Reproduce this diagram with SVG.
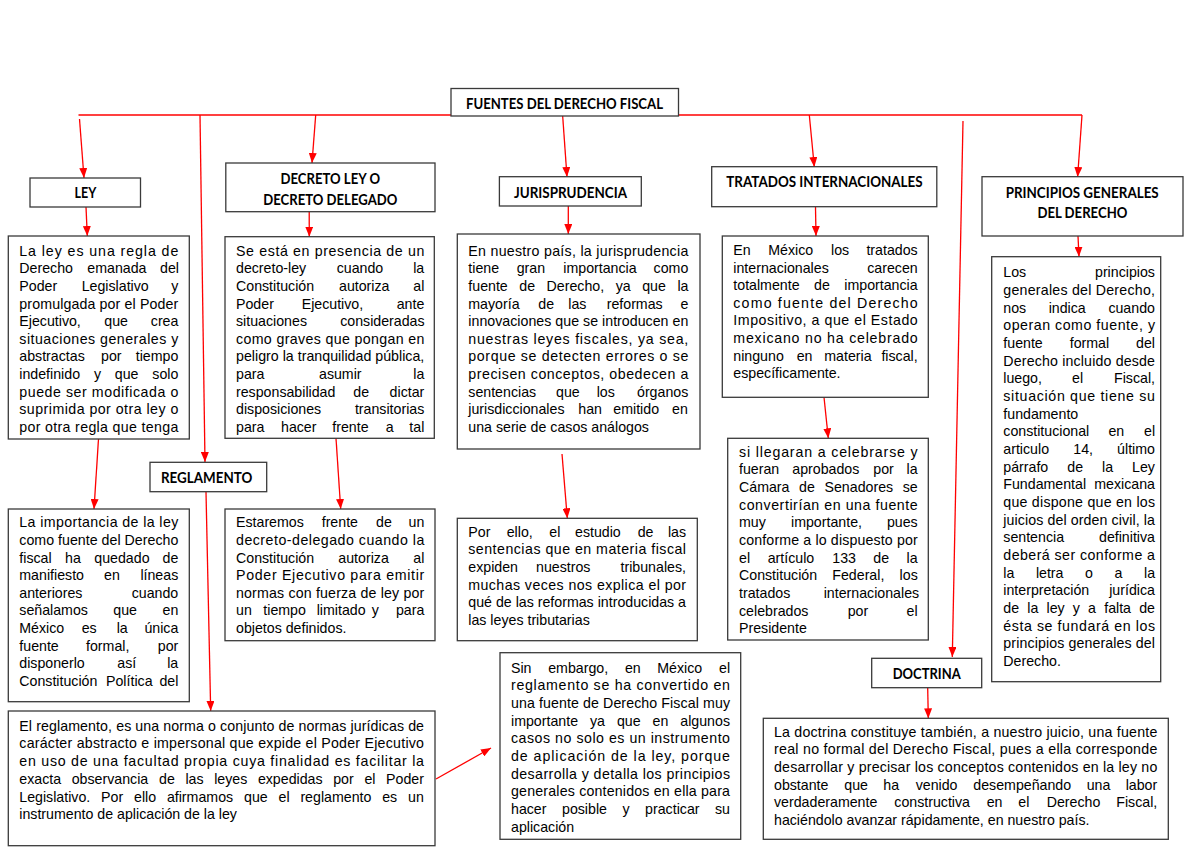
<svg xmlns="http://www.w3.org/2000/svg" width="1200" height="849" viewBox="0 0 1200 849">
<style>
.bx{fill:#fff;stroke:#3a3a3a;stroke-width:1.3}
.h{font-family:Lato,"Liberation Sans",Arial,sans-serif;font-weight:700;font-size:14.5px;fill:#000}
.b{font-family:"Liberation Sans",Arial,sans-serif;font-size:14.2px;fill:#000}
.c{fill:none;stroke:#ff0000;stroke-width:1.3}
</style>
<defs>
<marker id="ah" viewBox="0 0 10 8" refX="10" refY="4" markerWidth="10" markerHeight="8" markerUnits="userSpaceOnUse" orient="auto">
<path d="M0,0 L10,4 L0,8 z" fill="#ff0000"/>
</marker>
<clipPath id="clipLey"><rect x="8.3" y="236" width="181" height="203"/></clipPath>
<clipPath id="clipDec"><rect x="225" y="236.7" width="209.3" height="201.6"/></clipPath>
</defs>

<g id="connectors">
<path class="c" d="M78.5,115 H1082"/>
<path class="c" d="M79.5,119 L84,178" marker-end="url(#ah)"/>
<path class="c" d="M200,115 L205,462" marker-end="url(#ah)"/>
<path class="c" d="M315.7,115 L312,163" marker-end="url(#ah)"/>
<path class="c" d="M562.6,115 L567,177" marker-end="url(#ah)"/>
<path class="c" d="M809.3,115 L814.3,167" marker-end="url(#ah)"/>
<path class="c" d="M963,121 L952.3,657" marker-end="url(#ah)"/>
<path class="c" d="M1082,115 L1077.6,177" marker-end="url(#ah)"/>
<path class="c" d="M86,207 L87.3,236" marker-end="url(#ah)"/>
<path class="c" d="M309.2,212 L309.3,236.7" marker-end="url(#ah)"/>
<path class="c" d="M568.3,206 L568.3,234" marker-end="url(#ah)"/>
<path class="c" d="M815.5,207 L816,236" marker-end="url(#ah)"/>
<path class="c" d="M1078,236 L1079,256.7" marker-end="url(#ah)"/>
<path class="c" d="M98.5,439 L94,509" marker-end="url(#ah)"/>
<path class="c" d="M206,492 L210.7,711" marker-end="url(#ah)"/>
<path class="c" d="M336,438.3 L340.7,509" marker-end="url(#ah)"/>
<path class="c" d="M562,454 L567.3,518.3" marker-end="url(#ah)"/>
<path class="c" d="M824,397.3 L828.3,438.3" marker-end="url(#ah)"/>
<path class="c" d="M927.7,688 L928.3,718.3" marker-end="url(#ah)"/>
<path class="c" d="M436,779 L491,748" marker-end="url(#ah)"/>
</g>

<g id="title">
<rect class="bx" x="451" y="88.5" width="227.5" height="27.5"/>
<text class="h" x="466" y="109" textLength="197" lengthAdjust="spacingAndGlyphs">FUENTES DEL DERECHO FISCAL</text>
</g>

<g id="ley">
<rect class="bx" x="30" y="178" width="110.5" height="29"/>
<text class="h" x="74.6" y="198" textLength="21.8" lengthAdjust="spacingAndGlyphs">LEY</text>
</g>

<g id="ley-def">
<rect class="bx" x="8.3" y="236" width="181" height="203"/>
<g clip-path="url(#clipLey)">
<text class="b" x="19.3" y="255.7" textLength="159" lengthAdjust="spacing">La ley es una regla de</text>
<text class="b" y="273.3"><tspan x="19.3">Derecho</tspan><tspan x="87.3">emanada</tspan><tspan x="160">del</tspan></text>
<text class="b" y="290.9"><tspan x="19.3">Poder</tspan><tspan x="81.7">Legislativo</tspan><tspan x="171.2">y</tspan></text>
<text class="b" x="19.3" y="308.5" textLength="159" lengthAdjust="spacing">promulgada por el Poder</text>
<text class="b" y="326.1"><tspan x="19.3">Ejecutivo,</tspan><tspan x="104.3">que</tspan><tspan x="150.8">crea</tspan></text>
<text class="b" x="19.3" y="343.7" textLength="159" lengthAdjust="spacing">situaciones generales y</text>
<text class="b" y="361.3"><tspan x="19.3">abstractas</tspan><tspan x="101">por</tspan><tspan x="135.7">tiempo</tspan></text>
<text class="b" y="378.9"><tspan x="19.3">indefinido</tspan><tspan x="93.9">y</tspan><tspan x="114.8">que</tspan><tspan x="152.3">solo</tspan></text>
<text class="b" x="19.3" y="396.5" textLength="159" lengthAdjust="spacing">puede ser modificada o</text>
<text class="b" x="19.3" y="414.1" textLength="159" lengthAdjust="spacing">suprimida por otra ley o</text>
<text class="b" x="19.3" y="431.7" textLength="159" lengthAdjust="spacing">por otra regla que tenga</text>
</g>
</g>

<g id="ley-importancia">
<rect class="bx" x="8.3" y="509" width="181" height="192.7"/>
<text class="b" x="19.3" y="527.3" textLength="159" lengthAdjust="spacing">La importancia de la ley</text>
<text class="b" x="19.3" y="544.9" textLength="159" lengthAdjust="spacing">como fuente del Derecho</text>
<text class="b" y="562.5"><tspan x="19.3">fiscal</tspan><tspan x="65">ha</tspan><tspan x="94.3">quedado</tspan><tspan x="162.5">de</tspan></text>
<text class="b" y="580.1"><tspan x="19.3">manifiesto</tspan><tspan x="104">en</tspan><tspan x="140.4">líneas</tspan></text>
<text class="b" y="597.7"><tspan x="19.3">anteriores</tspan><tspan x="131.7">cuando</tspan></text>
<text class="b" y="615.3"><tspan x="19.3">señalamos</tspan><tspan x="113.3">que</tspan><tspan x="162.5">en</tspan></text>
<text class="b" y="632.9"><tspan x="19.3">México</tspan><tspan x="81.7">es</tspan><tspan x="116.7">la</tspan><tspan x="144.4">única</tspan></text>
<text class="b" y="650.5"><tspan x="19.3">fuente</tspan><tspan x="86">formal,</tspan><tspan x="157.8">por</tspan></text>
<text class="b" y="668.1"><tspan x="19.3">disponerlo</tspan><tspan x="117.3">así</tspan><tspan x="167.2">la</tspan></text>
<text class="b" y="685.7"><tspan x="19.3">Constitución</tspan><tspan x="106">Política</tspan><tspan x="159.4">del</tspan></text>
</g>

<g id="decreto">
<rect class="bx" x="225.8" y="163" width="209.2" height="48.7"/>
<text class="h" x="280.5" y="184" textLength="99.5" lengthAdjust="spacingAndGlyphs">DECRETO LEY O</text>
<text class="h" x="263.3" y="204.5" textLength="134" lengthAdjust="spacingAndGlyphs">DECRETO DELEGADO</text>
</g>

<g id="decreto-ley">
<rect class="bx" x="225" y="236.7" width="209.3" height="201.6"/>
<g clip-path="url(#clipDec)">
<text class="b" x="236" y="255.7" textLength="188.3" lengthAdjust="spacing">Se está en presencia de un</text>
<text class="b" y="273.3"><tspan x="236">decreto-ley</tspan><tspan x="336.7">cuando</tspan><tspan x="413.2">la</tspan></text>
<text class="b" y="290.9"><tspan x="236">Constitución</tspan><tspan x="339">autoriza</tspan><tspan x="413.3">al</tspan></text>
<text class="b" y="308.5"><tspan x="236">Poder</tspan><tspan x="301.7">Ejecutivo,</tspan><tspan x="396.7">ante</tspan></text>
<text class="b" y="326.1"><tspan x="236">situaciones</tspan><tspan x="340.2">consideradas</tspan></text>
<text class="b" x="236" y="343.7" textLength="188.3" lengthAdjust="spacing">como graves que pongan en</text>
<text class="b" x="236" y="361.3" textLength="188.3" lengthAdjust="spacing">peligro la tranquilidad pública,</text>
<text class="b" y="378.9"><tspan x="236">para</tspan><tspan x="319">asumir</tspan><tspan x="413.3">la</tspan></text>
<text class="b" y="396.5"><tspan x="236">responsabilidad</tspan><tspan x="353.3">de</tspan><tspan x="389.6">dictar</tspan></text>
<text class="b" y="414.1"><tspan x="236">disposiciones</tspan><tspan x="354.9">transitorias</tspan></text>
<text class="b" y="431.7"><tspan x="236">para</tspan><tspan x="281">hacer</tspan><tspan x="332.3">frente</tspan><tspan x="385.7">a</tspan><tspan x="409.3">tal</tspan></text>
</g>
</g>

<g id="decreto-delegado">
<rect class="bx" x="225" y="509" width="210" height="131.7"/>
<text class="b" y="527.3"><tspan x="236">Estaremos</tspan><tspan x="321.7">frente</tspan><tspan x="376">de</tspan><tspan x="408.5">un</tspan></text>
<text class="b" x="236" y="544.9" textLength="188.3" lengthAdjust="spacing">decreto-delegado cuando la</text>
<text class="b" y="562.5"><tspan x="236">Constitución</tspan><tspan x="338.3">autoriza</tspan><tspan x="413.3">al</tspan></text>
<text class="b" x="236" y="580.1" textLength="188.3" lengthAdjust="spacing">Poder Ejecutivo para emitir</text>
<text class="b" x="236" y="597.7" textLength="188.3" lengthAdjust="spacing">normas con fuerza de ley por</text>
<text class="b" y="615.3"><tspan x="236">un</tspan><tspan x="263.3">tiempo</tspan><tspan x="316.7">limitado</tspan><tspan x="371.7">y</tspan><tspan x="395.9">para</tspan></text>
<text class="b" x="236" y="632.9">objetos definidos.</text>
</g>

<g id="reglamento">
<rect class="bx" x="150" y="462.3" width="116.7" height="29.4"/>
<text class="h" x="161" y="483.3" textLength="91.3" lengthAdjust="spacingAndGlyphs">REGLAMENTO</text>
</g>

<g id="reglamento-def">
<rect class="bx" x="8.3" y="711" width="426.7" height="134.7"/>
<text class="b" x="19.3" y="730.7" textLength="404.7" lengthAdjust="spacing">El reglamento, es una norma o conjunto de normas jurídicas de</text>
<text class="b" x="19.3" y="748.4" textLength="404.7" lengthAdjust="spacing">carácter abstracto e impersonal que expide el Poder Ejecutivo</text>
<text class="b" x="19.3" y="766.1" textLength="404.7" lengthAdjust="spacing">en uso de una facultad propia cuya finalidad es facilitar la</text>
<text class="b" y="783.8"><tspan x="19.3">exacta</tspan><tspan x="71.7">observancia</tspan><tspan x="159">de</tspan><tspan x="185.4">las</tspan><tspan x="214.2">leyes</tspan><tspan x="257.9">expedidas</tspan><tspan x="333.2">por</tspan><tspan x="364.4">el</tspan><tspan x="386.1">Poder</tspan></text>
<text class="b" y="801.5"><tspan x="19.3">Legislativo.</tspan><tspan x="101.1">Por</tspan><tspan x="134">ello</tspan><tspan x="166.9">afirmamos</tspan><tspan x="244">que</tspan><tspan x="278.5">el</tspan><tspan x="300.4">reglamento</tspan><tspan x="382.2">es</tspan><tspan x="408">un</tspan></text>
<text class="b" x="19.3" y="819.2">instrumento de aplicación de la ley</text>
</g>

<g id="jurisprudencia">
<rect class="bx" x="499.4" y="176.7" width="141.9" height="29.3"/>
<text class="h" x="514" y="198" textLength="113" lengthAdjust="spacingAndGlyphs">JURISPRUDENCIA</text>
</g>

<g id="jurisprudencia-def">
<rect class="bx" x="457.3" y="234" width="242.7" height="215"/>
<text class="b" x="468.3" y="255.7" textLength="220" lengthAdjust="spacing">En nuestro país, la jurisprudencia</text>
<text class="b" y="273.3"><tspan x="468.3">tiene</tspan><tspan x="516.7">gran</tspan><tspan x="563.3">importancia</tspan><tspan x="653.6">como</tspan></text>
<text class="b" y="290.9"><tspan x="468.3">fuente</tspan><tspan x="519.3">de</tspan><tspan x="546.6">Derecho,</tspan><tspan x="615.7">ya</tspan><tspan x="642.2">que</tspan><tspan x="677.4">la</tspan></text>
<text class="b" y="308.5"><tspan x="468.3">mayoría</tspan><tspan x="538.3">de</tspan><tspan x="568.3">las</tspan><tspan x="606.7">reformas</tspan><tspan x="680.4">e</tspan></text>
<text class="b" x="468.3" y="326.1" textLength="220" lengthAdjust="spacing">innovaciones que se introducen en</text>
<text class="b" x="468.3" y="343.7" textLength="220" lengthAdjust="spacing">nuestras leyes fiscales, ya sea,</text>
<text class="b" x="468.3" y="361.3" textLength="220" lengthAdjust="spacing">porque se detecten errores o se</text>
<text class="b" x="468.3" y="378.9" textLength="220" lengthAdjust="spacing">precisen conceptos, obedecen a</text>
<text class="b" y="396.5"><tspan x="468.3">sentencias</tspan><tspan x="556">que</tspan><tspan x="596.7">los</tspan><tspan x="637">órganos</tspan></text>
<text class="b" y="414.1"><tspan x="468.3">jurisdiccionales</tspan><tspan x="578.3">han</tspan><tspan x="613.3">emitido</tspan><tspan x="672">en</tspan></text>
<text class="b" x="468.3" y="431.7">una serie de casos análogos</text>
</g>

<g id="jurisprudencia-estudio">
<rect class="bx" x="457.3" y="518.3" width="240" height="122.4"/>
<text class="b" y="536.7"><tspan x="468.3">Por</tspan><tspan x="506.7">ello,</tspan><tspan x="549.3">el</tspan><tspan x="575">estudio</tspan><tspan x="637.7">de</tspan><tspan x="667.9">las</tspan></text>
<text class="b" x="468.3" y="554.3" textLength="217.7" lengthAdjust="spacing">sentencias que en materia fiscal</text>
<text class="b" y="571.9"><tspan x="468.3">expiden</tspan><tspan x="536">nuestros</tspan><tspan x="620.5">tribunales,</tspan></text>
<text class="b" x="468.3" y="589.5" textLength="217.7" lengthAdjust="spacing">muchas veces nos explica el por</text>
<text class="b" x="468.3" y="607.1" textLength="217.7" lengthAdjust="spacing">qué de las reformas introducidas a</text>
<text class="b" x="468.3" y="624.7">las leyes tributarias</text>
</g>

<g id="reglamento-mexico">
<rect class="bx" x="500" y="652.7" width="240.7" height="186.6"/>
<text class="b" y="672.7"><tspan x="511">Sin</tspan><tspan x="548.2">embargo,</tspan><tspan x="624.9">en</tspan><tspan x="657.3">México</tspan><tspan x="719">el</tspan></text>
<text class="b" x="511" y="690.4" textLength="219" lengthAdjust="spacing">reglamento se ha convertido en</text>
<text class="b" x="511" y="708" textLength="219" lengthAdjust="spacing">una fuente de Derecho Fiscal muy</text>
<text class="b" y="725.7"><tspan x="511">importante</tspan><tspan x="590">ya</tspan><tspan x="616.9">que</tspan><tspan x="652.5">en</tspan><tspan x="680.3">algunos</tspan></text>
<text class="b" x="511" y="743.4" textLength="219" lengthAdjust="spacing">casos no solo es un instrumento</text>
<text class="b" x="511" y="761" textLength="219" lengthAdjust="spacing">de aplicación de la ley, porque</text>
<text class="b" x="511" y="778.7" textLength="219" lengthAdjust="spacing">desarrolla y detalla los principios</text>
<text class="b" x="511" y="796.4" textLength="219" lengthAdjust="spacing">generales contenidos en ella para</text>
<text class="b" y="814"><tspan x="511">hacer</tspan><tspan x="562">posible</tspan><tspan x="622.5">y</tspan><tspan x="645.1">practicar</tspan><tspan x="715">su</tspan></text>
<text class="b" x="511" y="831.7">aplicación</text>
</g>

<g id="tratados">
<rect class="bx" x="711.7" y="166.7" width="225.1" height="40"/>
<text class="h" x="726.3" y="187" textLength="196.3" lengthAdjust="spacingAndGlyphs">TRATADOS INTERNACIONALES</text>
</g>

<g id="tratados-def">
<rect class="bx" x="722.3" y="236" width="206" height="161.3"/>
<text class="b" y="255"><tspan x="733.3">En</tspan><tspan x="768.3">México</tspan><tspan x="831">los</tspan><tspan x="866.4">tratados</tspan></text>
<text class="b" y="272.6"><tspan x="733.3">internacionales</tspan><tspan x="867.2">carecen</tspan></text>
<text class="b" y="290.2"><tspan x="733.3">totalmente</tspan><tspan x="814">de</tspan><tspan x="844.3">importancia</tspan></text>
<text class="b" x="733.3" y="307.8" textLength="184.4" lengthAdjust="spacing">como fuente del Derecho</text>
<text class="b" x="733.3" y="325.4" textLength="184.4" lengthAdjust="spacing">Impositivo, a que el Estado</text>
<text class="b" x="733.3" y="343" textLength="184.4" lengthAdjust="spacing">mexicano no ha celebrado</text>
<text class="b" y="360.6"><tspan x="733.3">ninguno</tspan><tspan x="796.7">en</tspan><tspan x="824.3">materia</tspan><tspan x="881.4">fiscal,</tspan></text>
<text class="b" x="733.3" y="378.2">específicamente.</text>
</g>

<g id="tratados-senado">
<rect class="bx" x="727.7" y="438.3" width="200.6" height="201.7"/>
<text class="b" x="739" y="456.7" textLength="178.7" lengthAdjust="spacing">si llegaran a celebrarse y</text>
<text class="b" y="474.4"><tspan x="739">fueran</tspan><tspan x="792.3">aprobados</tspan><tspan x="873.3">por</tspan><tspan x="906.6">la</tspan></text>
<text class="b" y="492"><tspan x="739">Cámara</tspan><tspan x="799.1">de</tspan><tspan x="824.5">Senadores</tspan><tspan x="902.7">se</tspan></text>
<text class="b" x="739" y="509.7" textLength="178.7" lengthAdjust="spacing">convertirían en una fuente</text>
<text class="b" y="527.4"><tspan x="739">muy</tspan><tspan x="791">importante,</tspan><tspan x="886.9">pues</tspan></text>
<text class="b" x="739" y="545" textLength="178.7" lengthAdjust="spacing">conforme a lo dispuesto por</text>
<text class="b" y="562.7"><tspan x="739">el</tspan><tspan x="767.7">artículo</tspan><tspan x="832.3">133</tspan><tspan x="873.3">de</tspan><tspan x="906.6">la</tspan></text>
<text class="b" y="580.4"><tspan x="739">Constitución</tspan><tspan x="832.3">Federal,</tspan><tspan x="899.6">los</tspan></text>
<text class="b" y="598"><tspan x="739">tratados</tspan><tspan x="823.7">internacionales</tspan></text>
<text class="b" y="615.7"><tspan x="739">celebrados</tspan><tspan x="847.7">por</tspan><tspan x="906.6">el</tspan></text>
<text class="b" x="739" y="633.4">Presidente</text>
</g>

<g id="principios">
<rect class="bx" x="982" y="176.7" width="201" height="59.3"/>
<text class="h" x="1005.7" y="198" textLength="153" lengthAdjust="spacingAndGlyphs">PRINCIPIOS GENERALES</text>
<text class="h" x="1037.4" y="217.5" textLength="90" lengthAdjust="spacingAndGlyphs">DEL DERECHO</text>
</g>

<g id="principios-def">
<rect class="bx" x="991.7" y="256.7" width="169" height="425"/>
<text class="b" y="277.3"><tspan x="1003.3">Los</tspan><tspan x="1095">principios</tspan></text>
<text class="b" x="1003.3" y="295" textLength="151.7" lengthAdjust="spacing">generales del Derecho,</text>
<text class="b" y="312.6"><tspan x="1003.3">nos</tspan><tspan x="1048.7">indica</tspan><tspan x="1108.4">cuando</tspan></text>
<text class="b" x="1003.3" y="330.3" textLength="151.7" lengthAdjust="spacing">operan como fuente, y</text>
<text class="b" y="348"><tspan x="1003.3">fuente</tspan><tspan x="1069.7">formal</tspan><tspan x="1136.1">del</tspan></text>
<text class="b" x="1003.3" y="365.7" textLength="151.7" lengthAdjust="spacing">Derecho incluido desde</text>
<text class="b" y="383.3"><tspan x="1003.3">luego,</tspan><tspan x="1072">el</tspan><tspan x="1114">Fiscal,</tspan></text>
<text class="b" x="1003.3" y="401" textLength="151.7" lengthAdjust="spacing">situación que tiene su</text>
<text class="b" x="1003.3" y="418.7">fundamento</text>
<text class="b" y="436.3"><tspan x="1003.3">constitucional</tspan><tspan x="1108.4">en</tspan><tspan x="1144">el</tspan></text>
<text class="b" y="454"><tspan x="1003.3">articulo</tspan><tspan x="1073.3">14,</tspan><tspan x="1117.1">último</tspan></text>
<text class="b" y="471.7"><tspan x="1003.3">párrafo</tspan><tspan x="1067.3">de</tspan><tspan x="1102.1">la</tspan><tspan x="1132.1">Ley</tspan></text>
<text class="b" y="489.3"><tspan x="1003.3">Fundamental</tspan><tspan x="1094.2">mexicana</tspan></text>
<text class="b" x="1003.3" y="507" textLength="151.7" lengthAdjust="spacing">que dispone que en los</text>
<text class="b" x="1003.3" y="524.7" textLength="151.7" lengthAdjust="spacing">juicios del orden civil, la</text>
<text class="b" y="542.3"><tspan x="1003.3">sentencia</tspan><tspan x="1099">definitiva</tspan></text>
<text class="b" x="1003.3" y="560" textLength="151.7" lengthAdjust="spacing">deberá ser conforme a</text>
<text class="b" y="577.7"><tspan x="1003.3">la</tspan><tspan x="1035.9">letra</tspan><tspan x="1085">o</tspan><tspan x="1114.5">a</tspan><tspan x="1144">la</tspan></text>
<text class="b" y="595.3"><tspan x="1003.3">interpretación</tspan><tspan x="1109.2">jurídica</tspan></text>
<text class="b" y="613"><tspan x="1003.3">de</tspan><tspan x="1027.3">la</tspan><tspan x="1046.5">ley</tspan><tspan x="1072.8">y</tspan><tspan x="1088.1">a</tspan><tspan x="1104.2">falta</tspan><tspan x="1139.2">de</tspan></text>
<text class="b" x="1003.3" y="630.7" textLength="151.7" lengthAdjust="spacing">ésta se fundará en los</text>
<text class="b" x="1003.3" y="648.3" textLength="151.7" lengthAdjust="spacing">principios generales del</text>
<text class="b" x="1003.3" y="666">Derecho.</text>
</g>

<g id="doctrina">
<rect class="bx" x="871.7" y="658.3" width="110" height="29.4"/>
<text class="h" x="892.7" y="679.3" textLength="68" lengthAdjust="spacingAndGlyphs">DOCTRINA</text>
</g>

<g id="doctrina-def">
<rect class="bx" x="763.3" y="718.3" width="405" height="121"/>
<text class="b" x="774" y="736.7" textLength="383.3" lengthAdjust="spacing">La doctrina constituye también, a nuestro juicio, una fuente</text>
<text class="b" x="774" y="754.4" textLength="383.3" lengthAdjust="spacing">real no formal del Derecho Fiscal, pues a ella corresponde</text>
<text class="b" x="774" y="772" textLength="383.3" lengthAdjust="spacing">desarrollar y precisar los conceptos contenidos en la ley no</text>
<text class="b" y="789.7"><tspan x="774">obstante</tspan><tspan x="844.3">que</tspan><tspan x="883.3">ha</tspan><tspan x="915.7">venido</tspan><tspan x="973.3">desempeñando</tspan><tspan x="1086.7">una</tspan><tspan x="1125.7">labor</tspan></text>
<text class="b" y="807.4"><tspan x="774">verdaderamente</tspan><tspan x="894.3">constructiva</tspan><tspan x="986.7">en</tspan><tspan x="1018.3">el</tspan><tspan x="1046.7">Derecho</tspan><tspan x="1116.3">Fiscal,</tspan></text>
<text class="b" x="774" y="825">haciéndolo avanzar rápidamente, en nuestro país.</text>
</g>
</svg>
